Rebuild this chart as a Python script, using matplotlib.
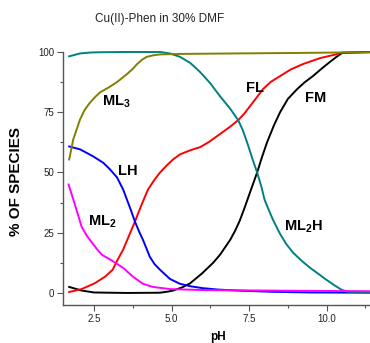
import matplotlib.pyplot as plt

plt.rcParams['font.family'] = ['Liberation Sans', 'DejaVu Sans']
plt.rcParams['mathtext.fontset'] = 'custom'
plt.rcParams['mathtext.bf'] = 'Liberation Sans:bold'
plt.rcParams['mathtext.rm'] = 'Liberation Sans'

''' Species curves read off the chart (pH, % of species) '''
ph_ml3 = [1.7, 1.83, 2.05, 2.2, 2.37, 2.55, 2.7, 3.0, 3.24, 3.56, 3.75, 3.89, 4.05, 4.2, 4.4,
          4.63, 5.27, 7.0, 9.0, 10.5, 11.4]
ml3 = [55.4, 63.7, 72, 76, 79, 81.5, 83.3, 85.5, 87.5, 90.8, 93, 95, 96.8, 98, 98.6,
       99, 99.2, 99.4, 99.6, 99.8, 99.8]

ph_ml2h = [1.7, 2.05, 2.4, 2.7, 3.5, 4.63, 4.95, 5.27, 5.6, 5.92, 6.25, 6.56, 6.89, 7.15, 7.3,
           7.45, 7.6, 7.76, 7.9, 8.0, 8.15, 8.27, 8.5, 8.7, 8.92, 9.2, 9.47, 9.75, 10.0, 10.25,
           10.5, 10.7, 11.4]
ml2h = [98.2, 99.4, 99.8, 99.9, 100, 100, 99.4, 98, 95.5, 91.7, 87, 81.7, 76.5, 71.7, 67.5,
        62, 56, 50, 44, 38.7, 34, 30.4, 24.5, 20.3, 16.7, 13.3, 10.4, 7.8, 5.4, 3.2,
        1.2, 0.5, 0.4]

ph_lh = [1.7, 2.05, 2.47, 2.8, 3.0, 3.24, 3.44, 3.56, 3.7, 3.82, 3.95, 4.08, 4.3, 4.45, 4.63,
         4.95, 5.27, 5.6, 6.0, 6.5, 7.1, 8.2, 9.5, 11.4]
lh = [60.8, 59.6, 56.7, 54, 51.5, 48, 42.9, 38.8, 34, 29.6, 25.6, 22, 15, 12, 9.6,
      5.8, 3.8, 2.8, 2.0, 1.4, 1.0, 0.5, 0.2, 0.1]

ph_ml2 = [1.68, 1.9, 2.1, 2.27, 2.44, 2.6, 2.76, 3.08, 3.44, 3.76, 4.08, 4.4, 4.95, 6.0, 8.0, 11.4]
ml2 = [45, 36, 27.5, 23.7, 20.8, 18.1, 15.8, 13.4, 10.4, 6.7, 3.8, 2.5, 1.6, 1.2, 1.0, 0.7]

ph_fl = [1.7, 2.1, 2.52, 2.85, 3.1, 3.25, 3.44, 3.63, 3.82, 4.03, 4.24, 4.45, 4.63, 4.85, 5.05,
         5.27, 5.6, 5.92, 6.2, 6.46, 6.89, 7.15, 7.35, 7.53, 7.75, 7.95, 8.2, 8.5, 8.85, 9.24,
         9.8, 10.3, 10.5, 11.4]
fl = [0.4, 1.6, 4, 6.7, 9.6, 13.5, 18, 23.8, 29.6, 36.5, 42.9, 47, 50, 53, 55.4,
      57.5, 59.2, 60.5, 62.6, 65, 69, 71.7, 74.5, 77.5, 81.2, 84.6, 87.6, 90, 92.8, 95,
      97.5, 99, 99.8, 100]

ph_fm = [1.7, 2.1, 2.5, 3.0, 3.56, 4.63, 4.9, 5.05, 5.34, 5.6, 6.0, 6.34, 6.56, 6.89, 7.05,
         7.2, 7.36, 7.53, 7.76, 7.92, 8.08, 8.3, 8.5, 8.75, 9.05, 9.3, 9.56, 9.85, 10.1, 10.3,
         10.5, 11.4]
fm = [2.5, 1.0, 0.2, 0.1, 0, 0.1, 0.6, 1.0, 2.3, 4.0, 8.3, 12.5, 15.8, 22, 25.8,
      30, 35.5, 41.7, 50, 56.5, 62.5, 69.5, 75, 80.5, 84.6, 87.5, 90, 93.2, 95.8, 97.8,
      99.6, 100]

''' Figure '''
fig = plt.figure(figsize=(3.7, 3.43), dpi=100)
ax = fig.add_axes([63 / 370, 38 / 343, 307 / 370, 253 / 343])

lw = 1.4
ax.plot(ph_fm, fm, color='black', lw=lw, clip_on=False)
ax.plot(ph_fl, fl, color='#ff0000', lw=lw, clip_on=False)
ax.plot(ph_lh, lh, color='#0000ff', lw=lw, clip_on=False)
ax.plot(ph_ml2h, ml2h, color='#008080', lw=lw, clip_on=False)
ax.plot(ph_ml2, ml2, color='#ff00ff', lw=lw, clip_on=False)
ax.plot(ph_ml3, ml3, color='#808000', lw=lw, clip_on=False)

ax.set_xlim(1.5, 11.4)
ax.set_ylim(-5, 100)
ax.set_xticks([2.5, 5.0, 7.5, 10.0])
ax.set_xticklabels(['2.5', '5.0', '7.5', '10.0'])
ax.set_xticks([3.75, 6.25, 8.75, 11.25], minor=True)
ax.set_yticks([0, 25, 50, 75, 100])
ax.set_yticks([12.5, 37.5, 62.5, 87.5], minor=True)

for side in ['top', 'right']:
    ax.spines[side].set_visible(False)
for side in ['left', 'bottom']:
    ax.spines[side].set_color('#555555')
    ax.spines[side].set_linewidth(1.0)
ax.tick_params(which='major', direction='out', length=4, width=0.8, color='#555555',
               labelsize=7, labelcolor='#222222', pad=2.5)
ax.tick_params(which='minor', direction='out', length=2.5, width=0.8, color='#555555')

# curve labels
lab = dict(fontsize=10.5, fontweight='bold', ha='center', va='center')
ax.text(3.22, 79.5, r'$\mathbf{ML_3}$', **lab)
ax.text(3.6, 50.8, 'LH', **lab)
ax.text(2.78, 29.5, r'$\mathbf{ML_2}$', **lab)
ax.text(7.7, 85, 'FL', **lab)
ax.text(9.66, 81, 'FM', **lab)
ax.text(9.24, 27.5, r'$\mathbf{ML_2H}$', **lab)

fig.text(160 / 370, 1 - 19 / 343, 'Cu(II)-Phen in 30% DMF', fontsize=8.5,
         ha='center', va='center', color='#222222')
fig.text(16 / 370, 1 - 181 / 343, '% OF SPECIES', fontsize=11, fontweight='bold',
         rotation=90, ha='center', va='center')
fig.text(218 / 370, 1 - 337 / 343, 'pH', fontsize=8.5, fontweight='bold',
         ha='center', va='center')

fig.savefig('out.png', dpi=100)
